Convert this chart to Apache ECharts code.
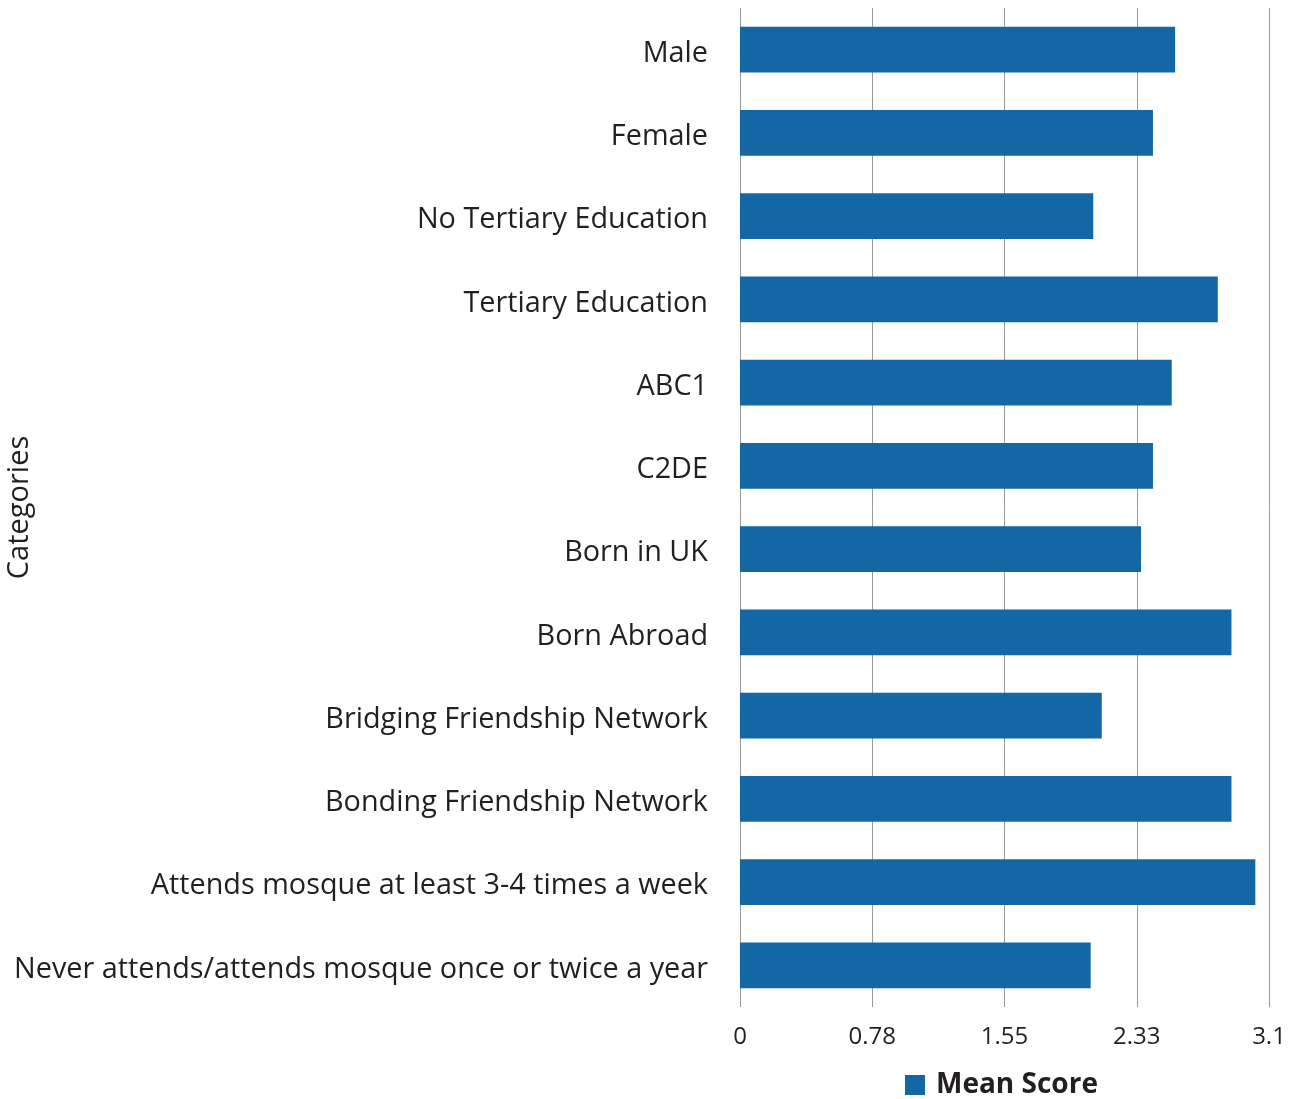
<!DOCTYPE html>
<html>
<head>
<meta charset="utf-8">
<style>
  html, body { margin: 0; padding: 0; background: #ffffff; }
  #chart { width: 1295px; height: 1099px; }
</style>
<script src="https://cdn.jsdelivr.net/npm/echarts@6/dist/echarts.min.js"></script>
</head>
<body>
<div id="chart"></div>
<script>
// Category names, top to bottom
const categories = [
  'Male',
  'Female',
  'No Tertiary Education',
  'Tertiary Education',
  'ABC1',
  'C2DE',
  'Born in UK',
  'Born Abroad',
  'Bridging Friendship Network',
  'Bonding Friendship Network',
  'Attends mosque at least 3-4 times a week',
  'Never attends/attends mosque once or twice a year'
];

// Mean score per category
const meanScores = [2.55, 2.42, 2.07, 2.80, 2.53, 2.42, 2.35, 2.88, 2.12, 2.88, 3.02, 2.055];

// Value axis tick labels (0 to 3.1 in five steps)
const tickLabels = ['0', '0.78', '1.55', '2.33', '3.1'];
const axisMax = 3.1;
const tickStep = axisMax / (tickLabels.length - 1);

const chart = echarts.init(document.getElementById('chart'), null, { renderer: 'canvas' });
const font = 'Open Sans';
const textColor = '#231f20';

chart.setOption({
  animation: false,
  backgroundColor: '#ffffff',
  grid: { left: 740, right: 26, top: 8, bottom: 92, containLabel: false, outerBoundsMode: 'none' },
  legend: {
    data: ['Mean Score'],
    left: 900, top: 1066,
    itemWidth: 20, itemHeight: 20, itemGap: 10,
    icon: 'rect',
    textStyle: { fontFamily: font, fontSize: 28, fontWeight: 'bold', color: textColor, padding: [0, 0, 0, 6] }
  },
  xAxis: {
    type: 'value',
    min: 0, max: axisMax, interval: tickStep,
    axisLine: { show: false },
    axisTick: { show: false },
    splitLine: { show: true, lineStyle: { color: '#9a9a9a', width: 1 } },
    axisLabel: {
      fontFamily: font, fontSize: 24, color: textColor, margin: 18,
      formatter: function (v) { return tickLabels[Math.round(v / tickStep)]; }
    }
  },
  yAxis: {
    type: 'category',
    data: categories,
    inverse: true,
    name: 'Categories',
    nameLocation: 'middle',
    nameGap: 706,
    nameRotate: 90,
    nameMoveOverlap: false,
    nameTextStyle: { fontFamily: font, fontSize: 29, color: textColor },
    axisLine: { show: false },
    axisTick: { show: false },
    axisLabel: {
      margin: 32,
      formatter: function (v) { return '{c|' + v + '}'; },
      rich: {
        c: { fontFamily: font, fontSize: 28.8, color: textColor, padding: [8, 0, 0, 0] }
      }
    }
  },
  series: [{
    name: 'Mean Score',
    type: 'bar',
    data: meanScores,
    barWidth: '55%',
    itemStyle: { color: '#1467a5' }
  }]
});
</script>
</body>
</html>
